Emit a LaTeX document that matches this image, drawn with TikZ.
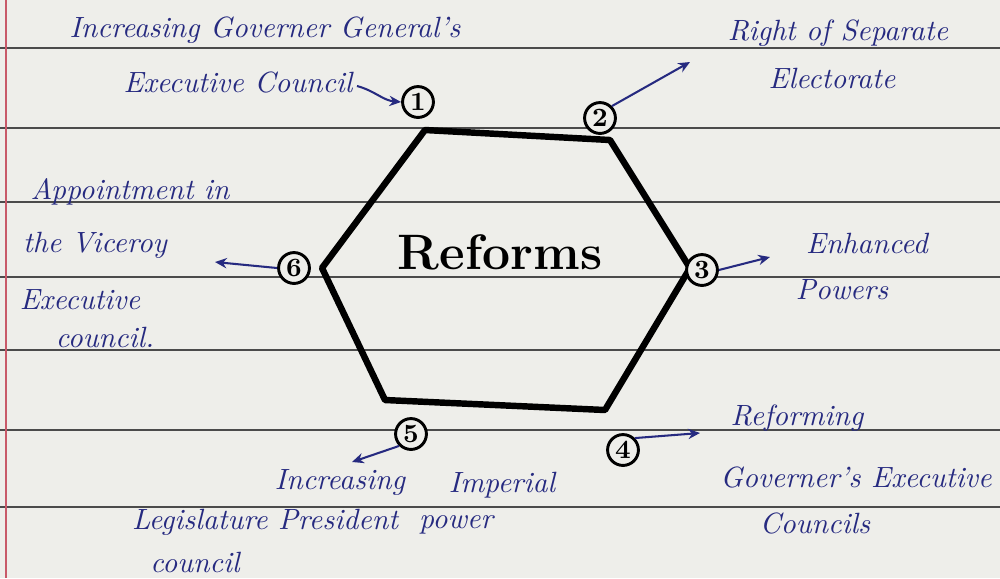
\documentclass[tikz,border=0pt]{standalone}
\usetikzlibrary{arrows.meta}
\definecolor{ink}{RGB}{38,42,128}
\definecolor{paper}{RGB}{238,238,234}
\definecolor{rulegray}{RGB}{75,75,75}
\definecolor{marginred}{RGB}{200,90,105}
\begin{document}
\begin{tikzpicture}[x=0.012cm,y=-0.012cm,
  lab/.style={text=ink,font=\itshape\fontsize{10}{11}\selectfont,inner sep=0pt,align=center},
  num/.style={circle,draw=black,fill=paper,line width=1pt,inner sep=0pt,minimum size=0.37cm,font=\bfseries\fontsize{9}{10}\selectfont},
  hexedge/.style={line width=2.2pt,line join=round,line cap=round},
  lead/.style={draw=ink,line width=0.7pt,-{Stealth[length=4pt,width=3.5pt]}},
  paperline/.style={draw=rulegray,line width=0.6pt}]
\fill[paper] (0,0) rectangle (1000,578);
\useasboundingbox (0,0) rectangle (1000,578);
\foreach \yy in {48,128,202,277,350,430,507} \draw[paperline] (0,\yy) -- (1000,\yy);
\draw[marginred,line width=0.8pt] (6,0) -- (6,578);

% hexagon
\coordinate (v1) at (425,130);
\coordinate (v2) at (610,140);
\coordinate (v3) at (690,268);
\coordinate (v4) at (605,410);
\coordinate (v5) at (385,400);
\coordinate (v6) at (322,268);
\draw[hexedge] (v1)--(v2)--(v3)--(v4)--(v5)--(v6)--cycle;

\node[font=\bfseries\fontsize{17}{19}\selectfont] (center) at (500,252) {Reforms};

% numbered circles
\node[num] (n1) at (418,102) {1};
\node[num] (n2) at (600,118) {2};
\node[num] (n3) at (702,270) {3};
\node[num] (n4) at (623,450) {4};
\node[num] (n5) at (411,434) {5};
\node[num] (n6) at (294,268) {6};

% labels
\node[lab] (l1a) at (265,30) {Increasing Governer General's};
\node[lab] (l1b) at (238,82) {Executive Council};
\node[lab] (l2a) at (838,33) {Right of Separate};
\node[lab] (l2b) at (832,78) {Electorate};
\node[lab] (l6a) at (130,192) {Appointment in};
\node[lab] (l6b) at (95,245) {the Viceroy};
\node[lab] (l6c) at (80,300) {Executive};
\node[lab] (l6d) at (105,337) {council.};
\node[lab] (l3a) at (867,243) {Enhanced};
\node[lab] (l3b) at (842,290) {Powers};
\node[lab] (l4a) at (797,418) {Reforming};
\node[lab] (l4b) at (856,477) {Governer's Executive};
\node[lab] (l4c) at (815,523) {Councils};
\node[lab] (l5a) at (340,482) {Increasing};
\node[lab] (l5b) at (502,485) {Imperial};
\node[lab] (l5c) at (265,522) {Legislature President};
\node[lab] (l5d) at (456,525) {power};
\node[lab] (l5e) at (195,562) {council};

% arrows
\coordinate (a1) at (357,86);
\coordinate (a2) at (690,62);
\coordinate (a3) at (770,257);
\coordinate (a4) at (700,433);
\coordinate (a5) at (352,462);
\coordinate (a6) at (215,262);
\draw[lead] (a1) to[out=-15,in=175] (n1.west);
\draw[lead] (n2.north east) -- (a2);
\draw[lead] (n3.east) -- (a3);
\draw[lead] (n4.north east) -- (a4);
\draw[lead] (n5.south west) -- (a5);
\draw[lead] (n6.west) -- (a6);
\end{tikzpicture}
\end{document}
